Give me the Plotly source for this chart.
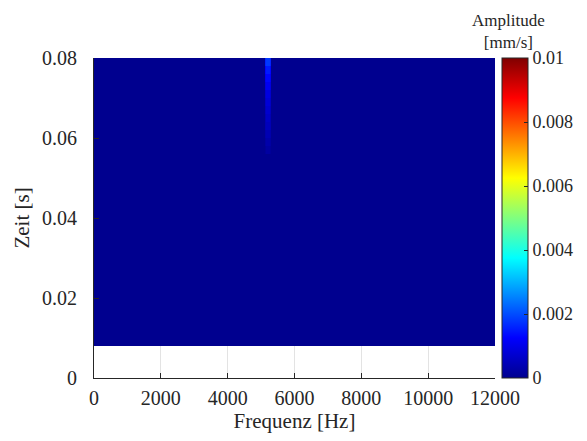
import plotly.graph_objects as go

# Frequency bin edges [Hz]
freq_edges = [0, 5110, 5160, 5210, 5260, 5300, 12000]
# Time bin edges [s]
time_edges = [0.008, 0.010, 0.012, 0.014, 0.016, 0.018, 0.020, 0.022, 0.024, 0.026,
              0.028, 0.030, 0.032, 0.034, 0.036, 0.038, 0.040, 0.042, 0.044, 0.046,
              0.048, 0.050, 0.052, 0.054, 0.056, 0.058, 0.060, 0.062, 0.064, 0.066,
              0.068, 0.070, 0.072, 0.074, 0.076, 0.078, 0.080]

# Amplitude of the streak near 5.2 kHz per time bin (bottom -> top) [mm/s]
streak_center = [0, 0, 0, 0, 0, 0, 0, 0, 0, 0, 0, 0, 0, 0, 0, 0, 0, 0, 0, 0, 0, 0, 0, 0,
                 0.0002, 0.0003, 0.0004, 0.0005, 0.0006, 0.0007, 0.0008, 0.0009, 0.0011,
                 0.0013, 0.0015, 0.0018]
streak_side = [0, 0, 0, 0, 0, 0, 0, 0, 0, 0, 0, 0, 0, 0, 0, 0, 0, 0, 0, 0, 0, 0, 0, 0,
               0.0001, 0.0002, 0.0003, 0.0004, 0.0004, 0.0005, 0.0006, 0.0007, 0.0009,
               0.0011, 0.0013, 0.0016]
background = [0.0] * len(streak_center)

z = [[b, s, c, c, s, b] for b, s, c in zip(background, streak_side, streak_center)]

x_ticks = [0, 2000, 4000, 6000, 8000, 10000, 12000]
x_labels = ["0", "2000", "4000", "6000", "8000", "10000", "12000"]
y_ticks = [0, 0.02, 0.04, 0.06, 0.08]
y_labels = ["0", "0.02", "0.04", "0.06", "0.08"]
cb_ticks = [0, 0.002, 0.004, 0.006, 0.008, 0.01]
cb_labels = ["0", "0.002", "0.004", "0.006", "0.008", "0.01"]

jet = [[0.0, "rgb(0,0,143)"], [0.125, "rgb(0,0,255)"], [0.375, "rgb(0,255,255)"],
       [0.625, "rgb(255,255,0)"], [0.875, "rgb(255,0,0)"], [1.0, "rgb(128,0,0)"]]

FONT = "Liberation Serif"
AX = "#262626"

fig = go.Figure(go.Heatmap(
    x=freq_edges, y=time_edges, z=z, zmin=0, zmax=0.01, colorscale=jet,
    colorbar=dict(
        x=(502 - 94) / 401, xanchor="left", y=0.5, yanchor="middle", len=1.0,
        lenmode="fraction", thickness=26, thicknessmode="pixels",
        outlinewidth=1, outlinecolor=AX, xpad=0, ypad=0,
        tickvals=cb_ticks, ticktext=cb_labels, ticks="inside", ticklen=4,
        tickcolor=AX, tickfont=dict(family=FONT, size=18, color="#262626"),
    ),
))

fig.update_layout(
    width=587, height=441,
    margin=dict(l=94, r=92, t=58, b=63, autoexpand=False),
    paper_bgcolor="white", plot_bgcolor="white",
    font=dict(family=FONT, color="#262626"),
    xaxis=dict(
        range=[0, 12000], tickvals=x_ticks, ticktext=x_labels, ticks="inside", ticklen=5,
        tickcolor=AX, showline=True, linecolor=AX, linewidth=1,
        showgrid=True, gridcolor="#e3e3e3", zeroline=False,
        tickfont=dict(family=FONT, size=20), ticklabelstandoff=2,
        title=dict(text="Frequenz [Hz]", font=dict(family=FONT, size=21), standoff=4),
    ),
    yaxis=dict(
        range=[0, 0.08], tickvals=y_ticks, ticktext=y_labels,
        ticks="inside", ticklen=5, tickcolor=AX, showline=True, linecolor=AX,
        linewidth=1, showgrid=True, gridcolor="#e3e3e3", zeroline=False,
        tickfont=dict(family=FONT, size=20), ticklabelstandoff=12,
        title=dict(text="Zeit [s]", font=dict(family=FONT, size=21), standoff=6),
    ),
    annotations=[dict(
        text="Amplitude<br>[mm/s]", xref="paper", yref="paper",
        x=(508 - 94) / 401, y=1 + (58 - 9) / 320, xanchor="center", yanchor="top",
        showarrow=False, font=dict(family=FONT, size=17, color="#262626"),
    )],
)

fig.write_html("out.html")
